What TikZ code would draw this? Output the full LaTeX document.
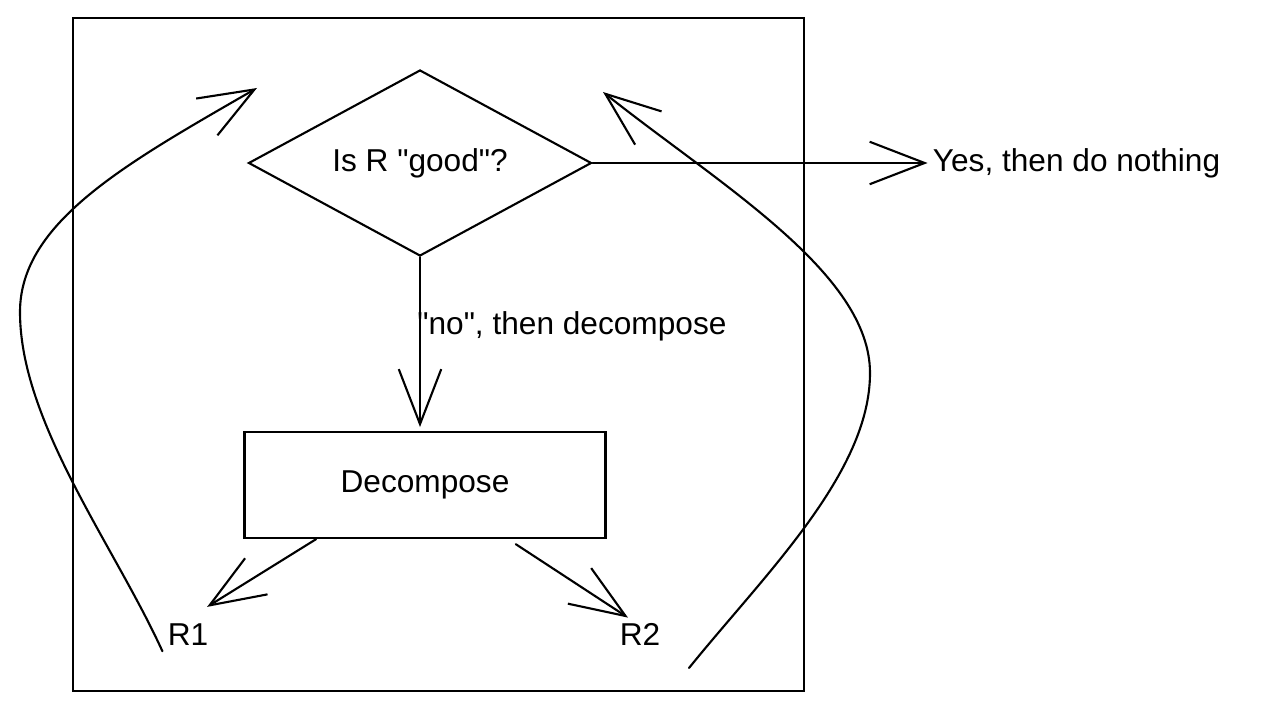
\documentclass[tikz,border=0pt]{standalone}
\usepackage{fontspec}
\setmainfont{Liberation Sans}[Ligatures=TeXOff]
\usetikzlibrary{shapes.geometric,arrows.meta,positioning,calc}
\tikzset{
  flow/frame/.style={draw, line width=1.4pt, minimum width=146.2mm, minimum height=134.6mm, inner sep=0pt},
  flow/decision/.style={
    draw,
    shape=diamond,
    aspect=1.87,
    minimum width=68.6mm,
    minimum height=37.2mm,
    inner sep=0pt,
    line width=1.2pt,
    font=\fontsize{18}{22}\selectfont
  },
  flow/process/.style={
    draw,
    minimum width=72.2mm,
    minimum height=21.2mm,
    line width=1.2pt,
    font=\fontsize{18}{22}\selectfont
  },
  flow/label/.style={font=\fontsize{18}{22}\selectfont, inner sep=1mm},
  flow/arrow/.style={line width=1.2pt, line cap=round, line join=round,
    -{Straight Barb[length=11mm, width=8.5mm]}}
}

\begin{document}
\begin{tikzpicture}[x=0.2mm, y=-0.2mm]
\useasboundingbox (0,0) rectangle (1272,713);

\node (frame) [flow/frame] at (438.5,354.5) {};

\node (check) [flow/decision] at (420,163) {Is R "good"?};
\node (split) [flow/process, below=34.8mm of check, xshift=1mm] {Decompose};

\node (yes) [flow/label, right=67mm of check.east] {Yes, then do nothing};
\node (no) [flow/label, anchor=west] at ($(check.south)!0.4!(split.north)+(-10,0)$) {"no", then decompose};
\node (r1) [flow/label] at (188,635) {R1};
\node (r2) [flow/label] at (640,634) {R2};

% --- loose ends of the loops
\coordinate (backL) at (257,88);
\coordinate (backR) at (603,92);
\coordinate (fromR2) at (689,668);

% --- arrows
\draw[flow/arrow] (check.east) -- (yes.west);
\draw[flow/arrow] (check.south) -- ($(check.south |- split.north)+(0,-4)$);
\draw[flow/arrow] ($(split.south west)!0.2!(split.south east)$) -- (r1.north) [shorten >=4.5mm];
\draw[flow/arrow] ($(split.south west)!0.75!(split.south east)+(0,5)$) -- ($(r2.north)+(-12,0)$);

% --- loops back to the check
\draw[flow/arrow] (r1.south west) .. controls (114,545) and (20,422) .. (20,312)
  .. controls (20,222) and (127,163) .. (backL);
\draw[flow/arrow] (fromR2) .. controls (765,574) and (870,473) .. (870,373)
  .. controls (870,273) and (720,185) .. (backR);

\end{tikzpicture}
\end{document}
